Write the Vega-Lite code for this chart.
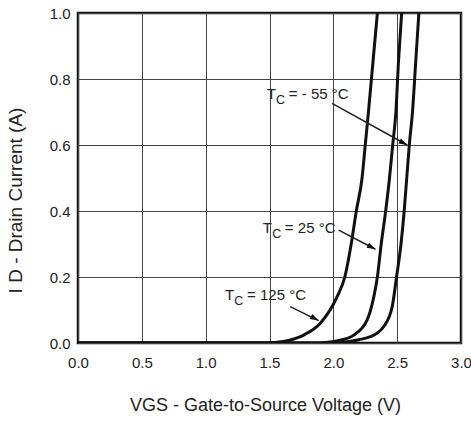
{
  "$schema": "https://vega.github.io/schema/vega-lite/v6.json",
  "width": 383,
  "height": 330,
  "autosize": {"type": "none"},
  "padding": {"left": 78, "top": 13, "right": 10, "bottom": 83},
  "background": "white",
  "config": {
    "font": "Liberation Sans",
    "view": {"stroke": "#111", "strokeWidth": 2.5},
    "axis": {
      "grid": true,
      "gridColor": "#444",
      "gridWidth": 1,
      "domain": false,
      "ticks": false,
      "labelFontSize": 15,
      "labelColor": "#222",
      "labelFlush": false,
      "labelOverlap": false,
      "titleFontSize": 18,
      "titleFontWeight": "normal",
      "titleColor": "#222",
      "format": ".1f"
    }
  },
  "datasets": {
    "curves": [
      {"t": "-55", "v": 0, "i": 0}, {"t": "-55", "v": 2.0, "i": 0}, {"t": "-55", "v": 2.1, "i": 0.003}, {"t": "-55", "v": 2.2, "i": 0.01},
      {"t": "-55", "v": 2.29, "i": 0.019}, {"t": "-55", "v": 2.343, "i": 0.03}, {"t": "-55", "v": 2.395, "i": 0.05},
      {"t": "-55", "v": 2.461, "i": 0.11}, {"t": "-55", "v": 2.495, "i": 0.2}, {"t": "-55", "v": 2.53, "i": 0.3},
      {"t": "-55", "v": 2.555, "i": 0.4}, {"t": "-55", "v": 2.575, "i": 0.5}, {"t": "-55", "v": 2.595, "i": 0.6},
      {"t": "-55", "v": 2.62, "i": 0.7}, {"t": "-55", "v": 2.645, "i": 0.85}, {"t": "-55", "v": 2.67, "i": 1.0},
      {"t": "25", "v": 0, "i": 0}, {"t": "25", "v": 1.88, "i": 0}, {"t": "25", "v": 1.97, "i": 0.003}, {"t": "25", "v": 2.06, "i": 0.009},
      {"t": "25", "v": 2.16, "i": 0.024}, {"t": "25", "v": 2.265, "i": 0.07}, {"t": "25", "v": 2.317, "i": 0.14},
      {"t": "25", "v": 2.345, "i": 0.2}, {"t": "25", "v": 2.375, "i": 0.3}, {"t": "25", "v": 2.41, "i": 0.4},
      {"t": "25", "v": 2.44, "i": 0.5}, {"t": "25", "v": 2.465, "i": 0.6}, {"t": "25", "v": 2.49, "i": 0.7},
      {"t": "25", "v": 2.51, "i": 0.85}, {"t": "25", "v": 2.535, "i": 1.0},
      {"t": "125", "v": 0, "i": 0}, {"t": "125", "v": 1.48, "i": 0}, {"t": "125", "v": 1.56, "i": 0.002}, {"t": "125", "v": 1.65, "i": 0.008},
      {"t": "125", "v": 1.767, "i": 0.024}, {"t": "125", "v": 1.898, "i": 0.06}, {"t": "125", "v": 2.029, "i": 0.14},
      {"t": "125", "v": 2.09, "i": 0.2}, {"t": "125", "v": 2.14, "i": 0.3}, {"t": "125", "v": 2.18, "i": 0.4},
      {"t": "125", "v": 2.225, "i": 0.5}, {"t": "125", "v": 2.25, "i": 0.6}, {"t": "125", "v": 2.275, "i": 0.7},
      {"t": "125", "v": 2.31, "i": 0.85}, {"t": "125", "v": 2.345, "i": 1.0}
    ],
    "labels": [
      {"t": "-55", "v": 1.479, "i": 0.738, "rest": "= - 55 °C"},
      {"t": "25", "v": 1.448, "i": 0.332, "rest": "= 25 °C"},
      {"t": "125", "v": 1.152, "i": 0.13, "rest": "= 125 °C"}
    ],
    "arrows": [
      {"t": "-55", "v1": 1.99, "i1": 0.726, "v2": 2.579, "i2": 0.6},
      {"t": "25", "v1": 2.042, "i1": 0.342, "v2": 2.33, "i2": 0.284},
      {"t": "125", "v1": 1.662, "i1": 0.11, "v2": 1.885, "i2": 0.068}
    ]
  },
  "layer": [
    {
      "data": {"name": "curves"},
      "mark": {"type": "line", "color": "#111", "strokeWidth": 3, "interpolate": "monotone", "clip": true},
      "encoding": {
        "x": {
          "field": "v", "type": "quantitative",
          "scale": {"domain": [0, 3], "nice": false},
          "axis": {"title": "VGS - Gate-to-Source Voltage (V)", "values": [0, 0.5, 1, 1.5, 2, 2.5, 3], "labelPadding": 12, "titlePadding": 26, "titleX": 187}
        },
        "y": {
          "field": "i", "type": "quantitative",
          "scale": {"domain": [0, 1], "nice": false},
          "axis": {"title": "I D - Drain Current (A)", "values": [0, 0.2, 0.4, 0.6, 0.8, 1.0], "labelPadding": 8, "titlePadding": 24, "titleFontSize": 19, "titleY": 187}
        },
        "detail": {"field": "t"}
      }
    },
    {
      "data": {"name": "arrows"},
      "mark": {"type": "rule", "color": "#222", "strokeWidth": 1.5},
      "encoding": {
        "x": {"field": "v1", "type": "quantitative"},
        "y": {"field": "i1", "type": "quantitative"},
        "x2": {"field": "v2"},
        "y2": {"field": "i2"}
      }
    },
    {
      "data": {"name": "arrows"},
      "mark": {"type": "point", "shape": "M0,0L-1,-0.32L-1,0.32Z", "filled": true, "size": 300, "angle": 28, "color": "#111", "opacity": 1, "strokeWidth": 0},
      "encoding": {
        "x": {"field": "v2", "type": "quantitative"},
        "y": {"field": "i2", "type": "quantitative"}
      }
    },
    {
      "data": {"name": "labels"},
      "mark": {"type": "text", "text": "T", "align": "left", "baseline": "alphabetic", "fontSize": 15, "color": "#222"},
      "encoding": {
        "x": {"field": "v", "type": "quantitative"},
        "y": {"field": "i", "type": "quantitative"}
      }
    },
    {
      "data": {"name": "labels"},
      "mark": {"type": "text", "text": "C", "align": "left", "baseline": "alphabetic", "fontSize": 12.5, "dx": 9.3, "dy": 4.5, "color": "#222"},
      "encoding": {
        "x": {"field": "v", "type": "quantitative"},
        "y": {"field": "i", "type": "quantitative"}
      }
    },
    {
      "data": {"name": "labels"},
      "mark": {"type": "text", "align": "left", "baseline": "alphabetic", "fontSize": 15, "dx": 22, "color": "#222"},
      "encoding": {
        "x": {"field": "v", "type": "quantitative"},
        "y": {"field": "i", "type": "quantitative"},
        "text": {"field": "rest"}
      }
    }
  ]
}
